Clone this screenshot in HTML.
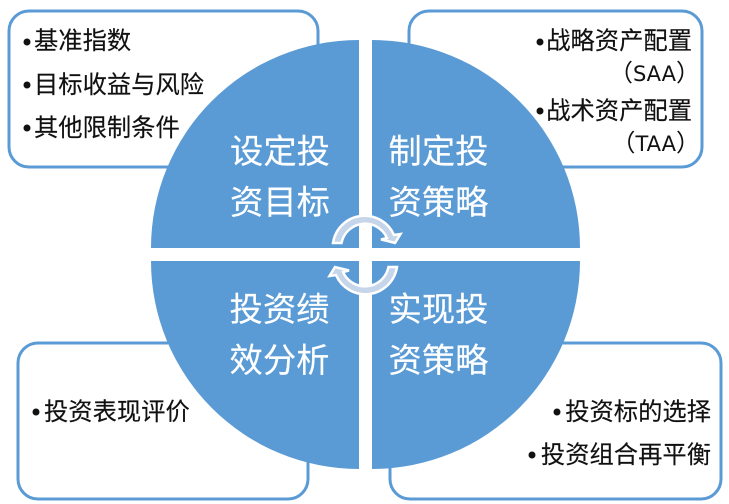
<!DOCTYPE html>
<html><head><meta charset="utf-8"><style>
html,body{margin:0;padding:0;background:#fff;width:729px;height:504px;overflow:hidden}
svg{display:block}
text{font-family:"Liberation Sans","Noto Sans CJK SC",sans-serif}
.b{font-size:24.300px;fill:#111;stroke:#111;stroke-width:.15px}
.c{font-size:33.300px;fill:#fff;stroke:#fff;stroke-width:.15px}
.l{font-family:"DejaVu Sans","Noto Sans CJK SC",sans-serif;font-size:24px;fill:#111}
.l tspan{font-size:21px}
</style></head><body>
<svg width="729" height="504" viewBox="0 0 729 504" xmlns="http://www.w3.org/2000/svg">
<g fill="#fff" stroke="#5b9bd5" stroke-width="3">
<rect x="9" y="11" width="309" height="156" rx="20"/>
<rect x="409" y="11" width="293" height="156" rx="20"/>
<rect x="18" y="343" width="290" height="156" rx="20"/>
<rect x="390" y="343" width="331" height="156" rx="20"/>
</g>
<g fill="#5b9bd5">
<path d="M359 248H151A208 208 0 0 1 359 40Z"/>
<path d="M372 248H580A208 208 0 0 0 372 40Z"/>
<path d="M359 261H151A208 208 0 0 0 359 469Z"/>
<path d="M372 261H580A208 208 0 0 1 372 469Z"/>
</g>
<g fill="#111">
<circle cx="27" cy="42" r="3.500"/><circle cx="27" cy="85" r="3.500"/><circle cx="27" cy="128" r="3.500"/>
<circle cx="540" cy="42" r="3.500"/><circle cx="540" cy="111" r="3.500"/>
<circle cx="36" cy="412" r="3.500"/>
<circle cx="557" cy="412" r="3.500"/><circle cx="532" cy="455" r="3.500"/>
</g>
<text class="b" x="34" y="49">基准指数</text>
<text class="b" x="34" y="93">目标收益与风险</text>
<text class="b" x="34" y="136">其他限制条件</text>
<text class="b" x="692" y="49" text-anchor="end">战略资产配置</text>
<text class="l" x="700" y="81" text-anchor="end">（<tspan>SAA</tspan>）</text>
<text class="b" x="692" y="119" text-anchor="end">战术资产配置</text>
<text class="l" x="700" y="151" text-anchor="end">（<tspan>TAA</tspan>）</text>
<text class="b" x="44" y="420">投资表现评价</text>
<text class="b" x="711" y="420" text-anchor="end">投资标的选择</text>
<text class="b" x="711" y="463" text-anchor="end">投资组合再平衡</text>
<text class="c" x="280" y="163" text-anchor="middle">设定投</text>
<text class="c" x="280" y="214" text-anchor="middle">资目标</text>
<text class="c" x="438.500" y="163" text-anchor="middle">制定投</text>
<text class="c" x="438.500" y="214" text-anchor="middle">资策略</text>
<text class="c" x="279.500" y="321" text-anchor="middle">投资绩</text>
<text class="c" x="279.500" y="372" text-anchor="middle">效分析</text>
<text class="c" x="438.500" y="321" text-anchor="middle">实现投</text>
<text class="c" x="438.500" y="372" text-anchor="middle">资策略</text>
<g fill="#c5d5ea" stroke="#fff" stroke-width="2.500" stroke-linejoin="miter">
<path d="M333 243A32 32 0 0 1 394 235L400.500 234L395 243L381 239.500L387 238A24 24 0 0 0 341.500 243Z"/>
<path transform="rotate(180 365 255)" d="M333 243A32 32 0 0 1 394 235L400.500 234L395 243L381 239.500L387 238A24 24 0 0 0 341.500 243Z"/>
</g>
</svg>
</body></html>
